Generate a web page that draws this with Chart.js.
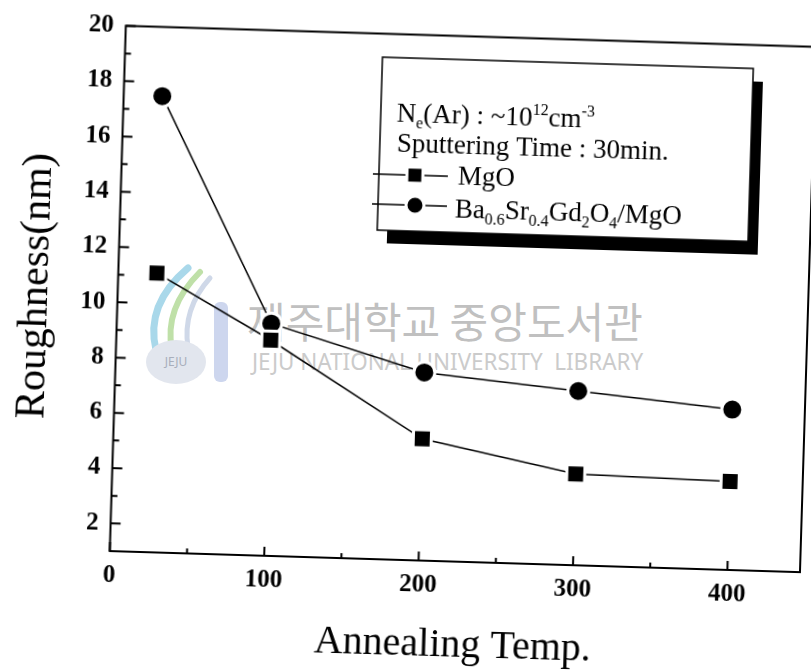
<!DOCTYPE html>
<html><head><meta charset="utf-8">
<script src="https://cdn.jsdelivr.net/npm/chart.js@4/dist/chart.umd.min.js"></script>
<style>
html,body{margin:0;padding:0;background:#fff;overflow:hidden;width:811px;height:671px}
#wm{position:absolute;left:0;top:0;width:811px;height:671px;z-index:0}
#wrap{position:absolute;left:0;top:0;width:811px;height:671px;transform:rotate(1.75deg);transform-origin:405.5px 335.5px;z-index:1}
canvas{display:block}
.ko{position:absolute;left:247px;top:299px;font-family:"Noto Sans CJK KR";font-size:42px;line-height:42px;color:#c0c0c0;white-space:nowrap}
.en{position:absolute;left:252px;top:348px;font-family:"Noto Sans";font-size:23px;line-height:26px;color:#cbcbcb;white-space:nowrap;transform:scaleX(0.975);transform-origin:0 0}
</style></head>
<body>
<div id="wm">
<svg style="position:absolute;left:140px;top:262px" width="95" height="125" viewBox="0 0 95 125">
<path d="M48 6 C22 28 8 55 16 88" stroke="#a9d8ea" stroke-width="7" fill="none" stroke-linecap="round"/>
<path d="M60 10 C38 32 26 58 32 88" stroke="#bfe0a8" stroke-width="6" fill="none" stroke-linecap="round"/>
<path d="M70 16 C52 36 44 60 48 86" stroke="#cfd8e8" stroke-width="5" fill="none" stroke-linecap="round"/>
<rect x="74" y="40" width="14" height="80" rx="6" fill="#cdd6ee"/>
<ellipse cx="36" cy="100" rx="30" ry="22" fill="#e2e6ee"/>
<text x="36" y="104" font-family="Noto Sans" font-size="12" fill="#a8aebb" text-anchor="middle">JEJU</text>
</svg>
<div class="ko">제주대학교 중앙도서관</div>
<div class="en">JEJU NATIONAL UNIVERSITY&nbsp;&nbsp;LIBRARY</div>
</div>
<div id="wrap"><canvas id="c" width="811" height="671"></canvas></div>
<script>
// ---- data ----
const temps = [25, 100, 200, 300, 400];
const mgoRoughness = [11.1, 8.8, 5.4, 4.3, 4.2];
const bsgoRoughness = [17.5, 9.4, 7.8, 7.3, 6.8];
const xTickValues = [0, 100, 200, 300, 400];
const xMinorValues = [50, 150, 250, 350];
const yTickValues = [2, 4, 6, 8, 10, 12, 14, 16, 18, 20];
const yMinorValues = [3, 5, 7, 9, 11, 13, 15, 17, 19];
const seriesLabels = ['MgO', 'Ba0.6Sr0.4Gd2O4/MgO'];
const noteLine1 = [['N',''],['e','sub'],['(Ar) : ~10',''],['12','sup'],['cm',''],['-3','sup']];
const noteLine2 = [['Sputtering Time : 30min.','']];
const legendLine2 = [['Ba',''],['0.6','sub'],['Sr',''],['0.4','sub'],['Gd',''],['2','sub'],['O',''],['4','sub'],['/MgO','']];
const xTitle = 'Annealing Temp.';
const yTitle = 'Roughness(nm)';

const SERIF = '"Liberation Serif", "Times New Roman", serif';

function drawRich(ctx, x, y, parts) {
  let cx = x;
  for (const [t, k] of parts) {
    if (k === 'sub') { ctx.font = '16px ' + SERIF; ctx.fillText(t, cx, y + 6); }
    else if (k === 'sup') { ctx.font = '16px ' + SERIF; ctx.fillText(t, cx, y - 11); }
    else { ctx.font = '27px ' + SERIF; ctx.fillText(t, cx, y); }
    cx += ctx.measureText(t).width;
  }
}
function marker(ctx, style, x, y, r) {
  ctx.beginPath();
  if (style === 'rect') ctx.rect(x - r, y - r, 2 * r, 2 * r);
  else ctx.arc(x, y, r, 0, Math.PI * 2);
  ctx.fillStyle = '#000'; ctx.fill();
  ctx.lineWidth = 3; ctx.strokeStyle = '#fff'; ctx.stroke();
}

const framePlugin = {
  id: 'frame',
  beforeDatasetsDraw(chart) {
    const ctx = chart.ctx, a = chart.chartArea, xs = chart.scales.x, ys = chart.scales.y;
    ctx.save();
    ctx.strokeStyle = '#000'; ctx.lineWidth = 2;
    ctx.strokeRect(a.left, a.top, a.right - a.left, a.bottom - a.top);
    ctx.beginPath();
    xTickValues.forEach(v => { const p = xs.getPixelForValue(v); ctx.moveTo(p, a.bottom); ctx.lineTo(p, a.bottom - 9); });
    xMinorValues.forEach(v => { const p = xs.getPixelForValue(v); ctx.moveTo(p, a.bottom); ctx.lineTo(p, a.bottom - 5); });
    yTickValues.forEach(v => { const p = ys.getPixelForValue(v); ctx.moveTo(a.left, p); ctx.lineTo(a.left + 10, p); });
    yMinorValues.forEach(v => { const p = ys.getPixelForValue(v); ctx.moveTo(a.left, p); ctx.lineTo(a.left + 6, p); });
    ctx.stroke();
    ctx.restore();
  },
  afterDraw(chart) {
    const ctx = chart.ctx;
    const bx = 374, by = 58, bw = 371, bh = 173;
    ctx.save();
    ctx.fillStyle = '#000';
    ctx.fillRect(bx + 10, by + 13, bw, bh);
    ctx.fillStyle = '#fff';
    ctx.fillRect(bx, by, bw, bh);
    ctx.lineWidth = 1.5; ctx.strokeStyle = '#000';
    ctx.strokeRect(bx, by, bw, bh);
    ctx.fillStyle = '#000'; ctx.textBaseline = 'alphabetic'; ctx.textAlign = 'left';
    drawRich(ctx, 390, 122, noteLine1);
    drawRich(ctx, 391, 152, noteLine2);
    ctx.strokeStyle = '#000'; ctx.lineWidth = 1.5;
    ctx.beginPath(); ctx.moveTo(368, 175); ctx.lineTo(443, 175); ctx.moveTo(368, 205); ctx.lineTo(443, 205); ctx.stroke();
    marker(ctx, 'rect', 410, 175, 8);
    marker(ctx, 'circle', 411, 205, 9);
    ctx.fillStyle = '#000';
    drawRich(ctx, 453, 183, [[seriesLabels[0], '']]);
    drawRich(ctx, 451, 216, legendLine2);
    ctx.restore();
  }
};

const tickFont = { family: SERIF, weight: 'bold', size: 25 };
new Chart(document.getElementById('c'), {
  type: 'scatter',
  data: {
    datasets: [
      { label: seriesLabels[0], data: temps.map((t, i) => ({ x: t, y: mgoRoughness[i] })),
        showLine: true, borderColor: '#000', borderWidth: 1.5, backgroundColor: '#000',
        pointStyle: 'rect', pointRadius: 12.7, pointHoverRadius: 12.7, pointBorderColor: '#fff', pointBorderWidth: 3, pointBackgroundColor: '#000' },
      { label: seriesLabels[1], data: temps.map((t, i) => ({ x: t, y: bsgoRoughness[i] })),
        showLine: true, borderColor: '#000', borderWidth: 1.5, backgroundColor: '#000',
        pointStyle: 'circle', pointRadius: 10.5, pointHoverRadius: 10.5, pointBorderColor: '#fff', pointBorderWidth: 3, pointBackgroundColor: '#000' }
    ]
  },
  options: {
    responsive: false, animation: false, devicePixelRatio: 1,
    layout: { autoPadding: false, padding: { left: 0, top: 34.5, right: 4, bottom: 0 } },
    plugins: { legend: { display: false }, tooltip: { enabled: false } },
    scales: {
      x: {
        type: 'linear', min: 0, max: 447,
        afterBuildTicks: s => { s.ticks = xTickValues.map(v => ({ value: v })); },
        afterFit: s => { s.height = 111; },
        grid: { display: false, drawTicks: false }, border: { display: false },
        ticks: { font: tickFont, color: '#000', padding: 10, maxRotation: 0, autoSkip: false },
        title: { display: true, text: xTitle, color: '#000', font: { family: SERIF, size: 40 }, padding: { top: 0, bottom: 3 } }
      },
      y: {
        type: 'linear', min: 1, max: 20,
        afterBuildTicks: s => { s.ticks = yTickValues.map(v => ({ value: v })); },
        afterFit: s => { s.width = 116.5; },
        grid: { display: false, drawTicks: false }, border: { display: false },
        ticks: { font: tickFont, color: '#000', padding: 12, autoSkip: false },
        title: { display: true, text: yTitle, color: '#000', font: { family: SERIF, size: 42 }, padding: { top: 10, bottom: 0 } }
      }
    }
  },
  plugins: [framePlugin]
});
</script>
</body></html>
